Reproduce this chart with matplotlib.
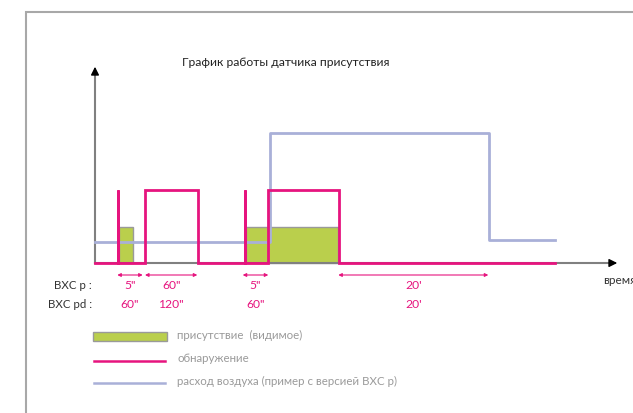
import matplotlib.pyplot as plt
from matplotlib.patches import Rectangle

plt.rcParams['font.family'] = ['Lato', 'DejaVu Sans']

# schematic time units (origin at the y axis), levels above the time axis
detect_t = [0, 23.5, 23.5, 23.5, 50, 50, 102.5, 102.5, 150, 150, 150, 172.5, 172.5, 244, 244, 460]
detect_v = [0, 0, 73, 0, 0, 73, 73, 0, 0, 73, 0, 0, 73, 73, 0, 0]

air_t = [0, 174.5, 174.5, 394, 394, 460]
air_v = [21.5, 21.5, 130, 130, 23, 23]

presence_start = [24, 151]
presence_end = [38.3, 243]
presence_level = [36, 36.5]

# dimension arrows: (start, end, BXC p label, BXC pd label)
dim_start = [22.3, 50, 147.7, 243.3]
dim_end = [47.7, 102.3, 173.3, 393.3]
dim_p = ['5"', '60"', '5"', "20'"]
dim_pd = ['60"', '120"', '60"', "20'"]

pink = '#e6147e'
green = '#bacf4c'
blue = '#a9b0d8'
axis_gray = '#808080'

fig = plt.figure(figsize=(6.33, 4.13), dpi=100)
ax = fig.add_axes([0, 0, 1, 1])
ax.set_xlim(-95, 538)
ax.set_ylim(-150, 263)
ax.axis('off')

# outer frame
ax.plot([-69, -69, 538], [-150, 251, 251], color='#a8a8a8', lw=1.5, solid_joinstyle='miter')

ax.text(191, 201, 'График работы датчика присутствия', ha='center', va='center',
        fontsize=8.7, color='#222222')

# presence bars
for s, e, h in zip(presence_start, presence_end, presence_level):
    ax.add_patch(Rectangle((s, 0), e - s, h, facecolor=green, edgecolor='#9a9a9a', lw=1, zorder=2))

# axes
ax.plot([0, 0], [0, 192], color=axis_gray, lw=1.5, zorder=3)
ax.plot([0, 517], [0, 0], color=axis_gray, lw=1.5, zorder=3)
ax.annotate('', xy=(0, 199), xytext=(0, 189),
            arrowprops=dict(arrowstyle='-|>', color='black', lw=1, mutation_scale=12), zorder=4)
ax.annotate('', xy=(525, 0), xytext=(515, 0),
            arrowprops=dict(arrowstyle='-|>', color='black', lw=1, mutation_scale=12), zorder=4)
ax.text(508, -17, 'время', ha='left', va='center', fontsize=8.5, color='#333333')

ax.plot(air_t, air_v, color=blue, lw=2, zorder=4)
ax.plot(detect_t, detect_v, color=pink, lw=2, zorder=5, solid_joinstyle='miter')

# dimension rows
for s, e, p, pd_ in zip(dim_start, dim_end, dim_p, dim_pd):
    ax.annotate('', xy=(s, -12), xytext=(e, -12),
                arrowprops=dict(arrowstyle='<|-|>', color=pink, lw=0.8, mutation_scale=5,
                                shrinkA=0, shrinkB=0))
    c = (s + e) / 2
    ax.text(c, -22.5, p, ha='center', va='center', fontsize=8.7, color=pink)
    ax.text(c, -41.5, pd_, ha='center', va='center', fontsize=8.7, color=pink)

ax.text(-3, -22.5, 'ВХС р :', ha='right', va='center', fontsize=8.3, color='#333333')
ax.text(-3, -41.5, 'ВХС pd :', ha='right', va='center', fontsize=8.3, color='#333333')

# legend
ax.add_patch(Rectangle((-2, -78), 74, 9, facecolor=green, edgecolor='#9a9a9a', lw=1))
ax.plot([-1, 70], [-98, -98], color=pink, lw=1.8)
ax.plot([-1, 70], [-120, -120], color=blue, lw=1.8)
leg_gray = '#9a9a9a'
ax.text(82, -72.5, 'присутствие  (видимое)', ha='left', va='center', fontsize=8.3, color=leg_gray)
ax.text(82, -95, 'обнаружение', ha='left', va='center', fontsize=8.3, color=leg_gray)
ax.text(82, -118, 'расход воздуха (пример с версией ВХС р)', ha='left', va='center',
        fontsize=8.3, color=leg_gray)

fig.savefig('out.png', dpi=100)
